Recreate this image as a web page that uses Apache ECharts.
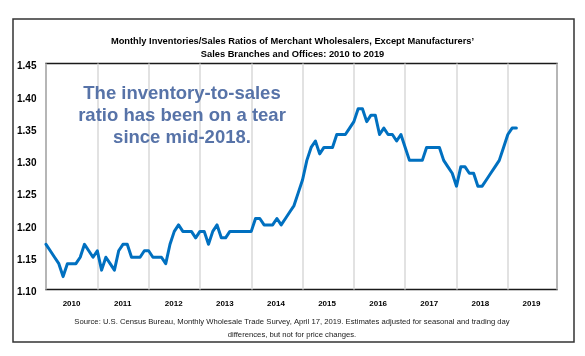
<!DOCTYPE html>
<html>
<head>
<meta charset="utf-8">
<script src="https://cdn.jsdelivr.net/npm/echarts@6/dist/echarts.min.js"></script>
<style>
html,body{margin:0;padding:0;background:#fff;}
#chart{width:585px;height:356px;}
</style>
</head>
<body>
<div id="chart"></div>
<script>
// Year labels on the x axis
const years = ['2010','2011','2012','2013','2014','2015','2016','2017','2018','2019'];
// Monthly inventories/sales ratio, Jan 2010 onward (one value per month)
const ratios = [
  1.17,1.16,1.15,1.14,1.12,1.14,1.14,1.14,1.15,1.17,1.16,1.15, // 2010
  1.16,1.13,1.15,1.14,1.13,1.16,1.17,1.17,1.15,1.15,1.15,1.16, // 2011
  1.16,1.15,1.15,1.15,1.14,1.17,1.19,1.20,1.19,1.19,1.19,1.18, // 2012
  1.19,1.19,1.17,1.19,1.20,1.18,1.18,1.19,1.19,1.19,1.19,1.19, // 2013
  1.19,1.21,1.21,1.20,1.20,1.20,1.21,1.20,1.21,1.22,1.23,1.25, // 2014
  1.27,1.30,1.32,1.33,1.31,1.32,1.32,1.32,1.34,1.34,1.34,1.35, // 2015
  1.36,1.38,1.38,1.36,1.37,1.37,1.34,1.35,1.34,1.34,1.33,1.34, // 2016
  1.32,1.30,1.30,1.30,1.30,1.32,1.32,1.32,1.32,1.30,1.29,1.28, // 2017
  1.26,1.29,1.29,1.28,1.28,1.26,1.26,1.27,1.28,1.29,1.30,1.32, // 2018
  1.34,1.35,1.35                                               // 2019
];
// y-axis range
const yMin = 1.10, yMax = 1.45, yStep = 0.05;

const titleText = 'Monthly Inventories/Sales Ratios of Merchant Wholesalers, Except Manufacturers\u2019\nSales Branches and Offices: 2010 to 2019';
const noteText = 'The inventory-to-sales\nratio has been on a tear\nsince mid-2018.';
const sourceText = 'Source: U.S. Census Bureau, Monthly Wholesale Trade Survey, April 17, 2019. Estimates adjusted for seasonal and trading day\ndifferences, but not for price changes.';

const narrow = '"Liberation Sans Narrow", "Arial Narrow", "Liberation Sans", Arial, sans-serif';

const chart = echarts.init(document.getElementById('chart'), null, {renderer:'canvas'});
chart.setOption({
  animation: false,
  backgroundColor: '#fff',
  title: {
    text: titleText,
    left: 'center',
    top: 30,
    textStyle: {fontFamily: narrow, fontSize: 9.3, fontWeight: 'bold', color: '#000', lineHeight: 13}
  },
  grid: {
    left: 46, top: 63.5, width: 511, height: 226,
    show: true, borderColor: '#1a1a1a', borderWidth: 1.5, backgroundColor: 'transparent'
  },
  xAxis: [{
    type: 'value', min: 0, max: 119.5, interval: 12,
    axisLine: {show: false}, axisTick: {show: false}, axisLabel: {show: false},
    splitLine: {show: true, lineStyle: {color: '#d9d9d9', width: 1.5}}
  }, {
    type: 'category', data: years, boundaryGap: true, position: 'bottom',
    axisLine: {show: false}, axisTick: {show: false},
    axisLabel: {margin: 10, fontFamily: narrow, fontSize: 8, fontWeight: 'bold', color: '#000'},
    splitLine: {show: false}
  }],
  yAxis: {
    type: 'value', min: yMin, max: yMax, interval: yStep,
    axisLine: {show: false}, axisTick: {show: false}, splitLine: {show: false},
    axisLabel: {
      align: 'left', verticalAlign: 'top', lineHeight: 6, margin: 29,
      fontFamily: narrow, fontSize: 10, fontWeight: 'bold', color: '#000',
      formatter: v => v.toFixed(2)
    }
  },
  series: [{
    type: 'line',
    xAxisIndex: 0,
    data: ratios.map((v, i) => [i, v]),
    showSymbol: false,
    lineStyle: {color: '#0070c0', width: 3, cap: 'round', join: 'round'},
    itemStyle: {color: '#0070c0'}
  }],
  graphic: [
    {type: 'rect', shape: {x: 13, y: 19, width: 561, height: 323},
     style: {fill: 'none', stroke: '#333', lineWidth: 1.5}, silent: true, z: 100},
    {type: 'text', x: 182, y: 83, style: {
      text: noteText, fill: '#5773a8', font: 'bold 18.5px "Liberation Sans", Arial, sans-serif',
      textAlign: 'center', lineHeight: 22
    }, z: 50},
    {type: 'text', x: 292, y: 315, style: {
      text: sourceText, fill: '#1a1a1a', font: '7.7px ' + narrow,
      textAlign: 'center', lineHeight: 13
    }}
  ]
});
</script>
</body>
</html>
